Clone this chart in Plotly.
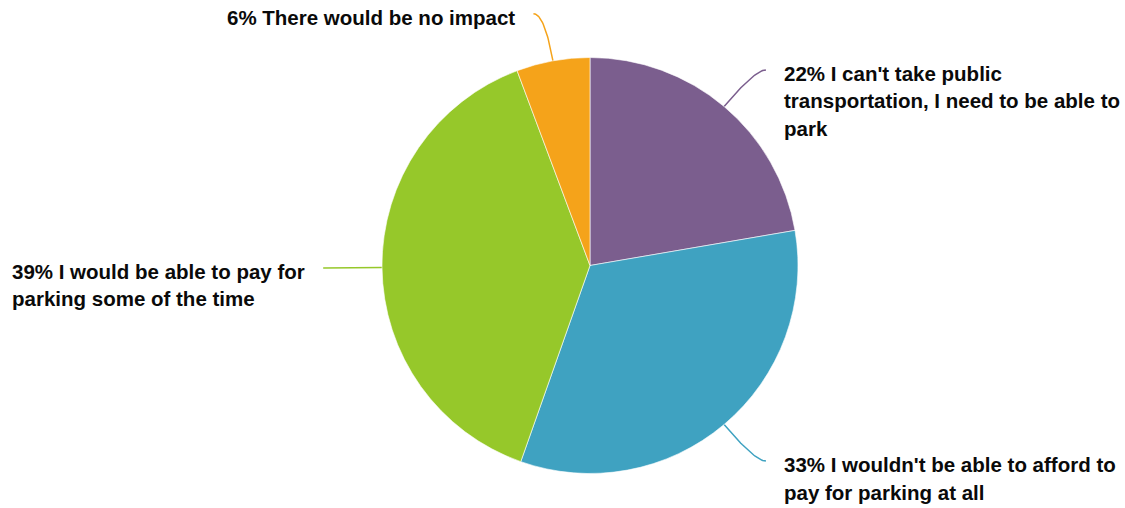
import math
import plotly.graph_objects as go

# ---- data ----
categories = [
    "I can't take public<br>transportation, I need to be able to<br>park",
    "I wouldn't be able to afford to<br>pay for parking at all",
    "I would be able to pay for<br>parking some of the time",
    "There would be no impact",
]
values = [22.3, 33.1, 38.9, 5.7]
colors = ["#7B5E8E", "#3FA2C1", "#96C82A", "#F5A31A"]

W, H = 1125, 508
CX, CY, R = 590, 265.5, 208
FONT = "Liberation Sans"
FS = 20.5
LINE_H = 27.5
INVIS = "rgba(0,0,0,0)"

fig = go.Figure()
fig.add_trace(go.Pie(
    values=values, labels=[c.replace("<br>", " ") for c in categories],
    marker=dict(colors=colors, line=dict(color="white", width=0.6)),
    sort=False, direction="clockwise", rotation=0,
    textinfo="none", hoverinfo="label+percent", showlegend=False,
    domain=dict(x=[(CX - R) / W, (CX + R) / W], y=[(H - CY - R) / H, (H - CY + R) / H]),
))

total = sum(values)
cum = 0.0
annotations = []
for v, cat, col in zip(values, categories, colors):
    mid = (cum + v / 2) / total * 2 * math.pi
    cum += v
    sx, sy = math.sin(mid), -math.cos(mid)
    p0 = (CX + R * sx, CY + R * sy)
    p1 = (CX + 1.23 * R * sx, CY + 1.23 * R * sy)
    side = 1 if sx >= 0 else -1
    p2 = (p1[0] + 11 * side, p1[1])
    xs, ys = [], []
    n = 30
    for i in range(n + 1):
        t = i / n
        xs.append((1 - t) ** 2 * p0[0] + 2 * (1 - t) * t * p1[0] + t ** 2 * p2[0])
        ys.append((1 - t) ** 2 * p0[1] + 2 * (1 - t) * t * p1[1] + t ** 2 * p2[1])
    fig.add_trace(go.Scatter(x=xs, y=ys, mode="lines", line=dict(color=col, width=1.5),
                             hoverinfo="skip", showlegend=False))
    pct = round(v / total * 100)
    lines = f"{pct}% {cat}".split("<br>")
    longest = max(lines, key=len)
    tx = p2[0] + 16 * side
    for k, ln in enumerate(lines):
        yc = p2[1] + 3.5 + k * LINE_H
        if side > 0:
            annotations.append(dict(
                x=tx, y=yc, xref="x", yref="y", text=f"<b>{ln}</b>",
                showarrow=False, xanchor="left", yanchor="middle",
                font=dict(family=FONT, size=FS, color="#0a0a0a"),
            ))
        else:
            if ln == longest:
                txt = f"<b>{ln}</b>"
                ya = "middle"
            else:
                txt = f"<b>{ln}</b><br><span style='color:{INVIS}'><b>{longest}</b></span>"
                ya = "top"
            ann = dict(
                x=tx, y=yc, xref="x", yref="y", text=txt, align="left",
                showarrow=False, xanchor="right", yanchor=ya,
                font=dict(family=FONT, size=FS, color="#0a0a0a"),
            )
            if ya == "top":
                ann["y"] = yc - FS * 0.65 - 1
            annotations.append(ann)

fig.update_layout(
    width=W, height=H, margin=dict(l=0, r=0, t=0, b=0),
    paper_bgcolor="white", plot_bgcolor="white",
    xaxis=dict(range=[0, W], visible=False, fixedrange=True),
    yaxis=dict(range=[H, 0], visible=False, fixedrange=True),
    annotations=annotations,
)
fig.write_html("out.html", config={"displayModeBar": False},
               post_script="document.body.style.margin='0px';")
